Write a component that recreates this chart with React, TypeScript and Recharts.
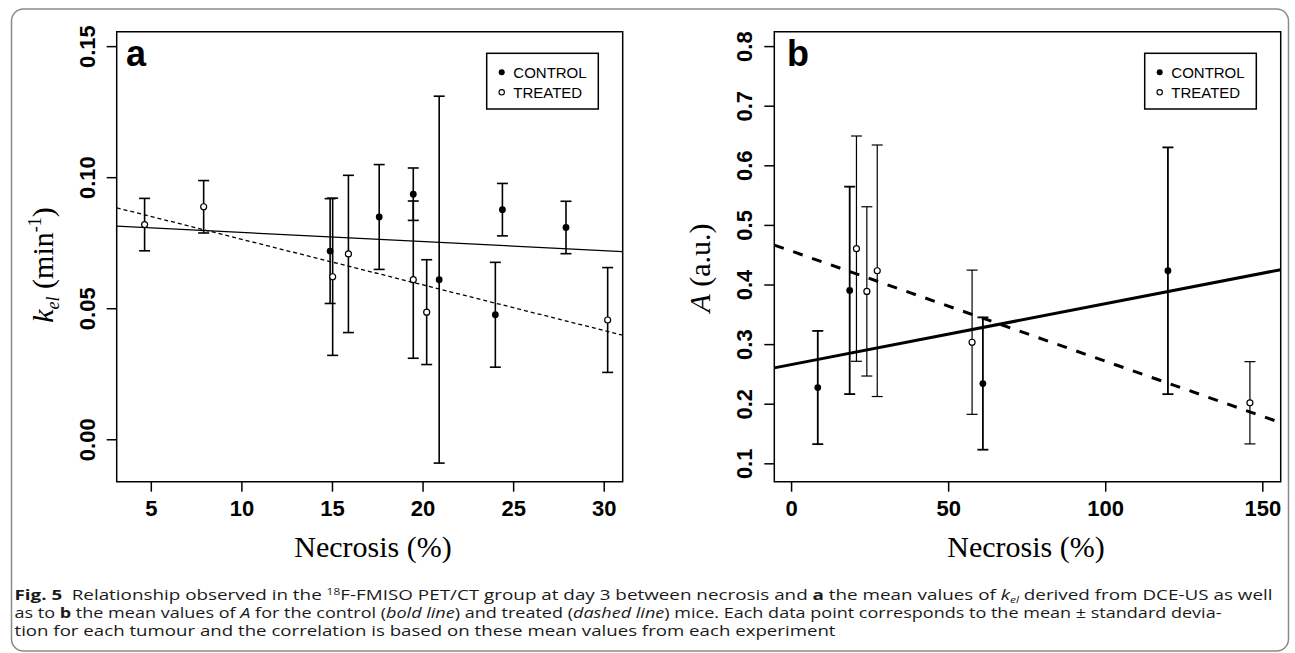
import React from 'react';
import { ScatterChart, Scatter, XAxis, YAxis, ErrorBar, ReferenceLine, ReferenceArea } from 'recharts';

// panel a: k_el against necrosis
const necrosisCtrlA = [14.87, 17.58, 19.46, 20.89, 23.99, 24.38, 27.89];
const kelCtrl = [0.072, 0.085, 0.0937, 0.0611, 0.0477, 0.0878, 0.081];
const kelCtrlSd = [0.02, 0.02, 0.01, 0.07, 0.02, 0.01, 0.01];
const necrosisTrtA = [4.63, 7.89, 15.01, 15.88, 19.46, 20.2, 30.19];
const kelTrt = [0.0821, 0.0889, 0.0622, 0.0709, 0.0611, 0.0487, 0.0457];
const kelTrtSd = [0.01, 0.01, 0.03, 0.03, 0.03, 0.02, 0.02];
const fitCtrlA = [{ x: 3.09, y: 0.0815 }, { x: 31.02, y: 0.0718 }];
const fitTrtA = [{ x: 3.09, y: 0.0885 }, { x: 31.02, y: 0.0399 }];
const domainXA = [3.09, 31.02];
const domainYA = [-0.016, 0.1557];
const ticksXA = [5, 10, 15, 20, 25, 30];
const ticksYA = [0, 0.05, 0.1, 0.15];

// panel b: A against necrosis
const necrosisCtrlB = [8.34, 18.5, 60.9, 119.8];
const ampCtrl = [0.228, 0.391, 0.2347, 0.4239];
const ampCtrlSd = [0.095, 0.174, 0.111, 0.207];
const necrosisTrtB = [20.65, 23.96, 27.27, 57.46, 145.9];
const ampTrt = [0.461, 0.3893, 0.4239, 0.304, 0.2024];
const ampTrtSd = [0.189, 0.142, 0.211, 0.121, 0.069];
const fitCtrlB = [{ x: -5.5, y: 0.261 }, { x: 155.7, y: 0.4257 }];
const fitTrtB = [{ x: -5.5, y: 0.467 }, { x: 155.7, y: 0.169 }];
const domainXB = [-5.5, 155.7];
const domainYB = [0.07, 0.825];
const ticksXB = [0, 50, 100, 150];
const ticksYB = [0.1, 0.2, 0.3, 0.4, 0.5, 0.6, 0.7, 0.8];

const legendLabels = ['CONTROL', 'TREATED'];

const toPoints = (xs: number[], ys: number[], sds: number[]) =>
  xs.map((x, i) => ({ x, y: ys[i], sd: sds[i] }));

const SANS = '"Liberation Sans", Arial, sans-serif';
const SERIF = '"Liberation Serif", "Times New Roman", serif';

const Dot = (p: any) => <circle cx={p.cx} cy={p.cy} r={3.4} fill="#000" />;
const Ring = (p: any) => <circle cx={p.cx} cy={p.cy} r={3} fill="#fff" stroke="#000" strokeWidth={1.2} />;

const XTick = (p: any) => (
  <text x={p.x} y={p.y + 24.5} textAnchor="middle" fontFamily={SANS} fontWeight="bold" fontSize={22} fill="#000">
    {p.payload.value}
  </text>
);

const makeYTick = (digits: number) => (p: any) => {
  const cx = p.x - 12;
  return (
    <text x={cx} y={p.y} transform={`rotate(-90 ${cx} ${p.y})`} textAnchor="middle" fontFamily={SANS} fontWeight="bold" fontSize={22} fill="#000">
      {p.payload.value.toFixed(digits)}
    </text>
  );
};

type PanelProps = {
  left: number;
  width: number;
  marginLeft: number;
  marginRight: number;
  domainX: number[];
  domainY: number[];
  ticksX: number[];
  ticksY: number[];
  digits: number;
  control: { x: number; y: number; sd: number }[];
  treated: { x: number; y: number; sd: number }[];
  fitCtrl: { x: number; y: number }[];
  fitTrt: { x: number; y: number }[];
  ctrlLine: any;
  trtLine: any;
  ctrlBar: number;
  trtBar: number;
};

const Panel = (p: PanelProps) => (
  <div style={{ position: 'absolute', left: p.left, top: 0 }}>
    <ScatterChart
      width={p.width}
      height={560}
      margin={{ top: 31.7, right: p.marginRight, bottom: 38.3, left: p.marginLeft }}
    >
      <XAxis
        type="number"
        dataKey="x"
        domain={p.domainX}
        ticks={p.ticksX}
        interval={0}
        allowDataOverflow
        axisLine={false}
        tickLine={{ stroke: '#000', strokeWidth: 1.5 }}
        tickSize={10}
        tickMargin={0}
        height={40}
        tick={XTick}
      />
      <YAxis
        type="number"
        dataKey="y"
        domain={p.domainY}
        ticks={p.ticksY}
        interval={0}
        allowDataOverflow
        axisLine={false}
        tickLine={{ stroke: '#000', strokeWidth: 1.5 }}
        tickSize={10}
        tickMargin={0}
        width={60}
        tick={makeYTick(p.digits)}
      />
      <ReferenceArea
        x1={p.domainX[0]}
        x2={p.domainX[1]}
        y1={p.domainY[0]}
        y2={p.domainY[1]}
        fill="none"
        fillOpacity={0}
        stroke="#000"
        strokeWidth={1.5}
        ifOverflow="visible"
      />
      <ReferenceLine segment={p.fitCtrl} ifOverflow="visible" {...p.ctrlLine} />
      <ReferenceLine segment={p.fitTrt} ifOverflow="visible" {...p.trtLine} />
      <Scatter data={p.control} shape={Dot} isAnimationActive={false}>
        <ErrorBar dataKey="sd" direction="y" width={5.5} stroke="#000" strokeWidth={p.ctrlBar} />
      </Scatter>
      <Scatter data={p.treated} shape={Ring} isAnimationActive={false}>
        <ErrorBar dataKey="sd" direction="y" width={5.5} stroke="#000" strokeWidth={p.trtBar} />
      </Scatter>
    </ScatterChart>
  </div>
);

const LegendBox = ({ x, y }: { x: number; y: number }) => (
  <g>
    <rect x={x} y={y} width={111.6} height={55.7} fill="#fff" stroke="#000" strokeWidth={1.5} />
    <circle cx={x + 15} cy={y + 19} r={3} fill="#000" />
    <circle cx={x + 15} cy={y + 39} r={2.7} fill="#fff" stroke="#000" strokeWidth={1.1} />
    {legendLabels.map((t, i) => (
      <text key={t} x={x + 26.6} y={y + 24.4 + i * 20} fontFamily={SANS} fontSize={15} fill="#000">
        {t}
      </text>
    ))}
  </g>
);

const CAP = '"Open Sans", "Noto Sans", sans-serif';

export default function App() {
  return (
    <div style={{ position: 'absolute', left: 0, top: 0, width: 1295, height: 653, background: '#fff' }}>
      <Panel
        left={0}
        width={640}
        marginLeft={56.7}
        marginRight={17.3}
        domainX={domainXA}
        domainY={domainYA}
        ticksX={ticksXA}
        ticksY={ticksYA}
        digits={2}
        control={toPoints(necrosisCtrlA, kelCtrl, kelCtrlSd)}
        treated={toPoints(necrosisTrtA, kelTrt, kelTrtSd)}
        fitCtrl={fitCtrlA}
        fitTrt={fitTrtA}
        ctrlLine={{ stroke: '#000', strokeWidth: 1.3 }}
        trtLine={{ stroke: '#000', strokeWidth: 1.3, strokeDasharray: '4 3' }}
        ctrlBar={1.6}
        trtBar={1.6}
      />
      <Panel
        left={645}
        width={645}
        marginLeft={69.3}
        marginRight={9.3}
        domainX={domainXB}
        domainY={domainYB}
        ticksX={ticksXB}
        ticksY={ticksYB}
        digits={1}
        control={toPoints(necrosisCtrlB, ampCtrl, ampCtrlSd)}
        treated={toPoints(necrosisTrtB, ampTrt, ampTrtSd)}
        fitCtrl={fitCtrlB}
        fitTrt={fitTrtB}
        ctrlLine={{ stroke: '#000', strokeWidth: 3 }}
        trtLine={{ stroke: '#000', strokeWidth: 3, strokeDasharray: '10 10' }}
        ctrlBar={1.8}
        trtBar={1.2}
      />
      <svg width={1295} height={653} style={{ position: 'absolute', left: 0, top: 0, pointerEvents: 'none' }}>
        <rect x={11.5} y={9} width={1277} height={642} rx={12} fill="none" stroke="#8a8a8a" strokeWidth={1.5} />
        <text x={126} y={66} fontFamily={SANS} fontWeight="bold" fontSize={36} fill="#000">a</text>
        <text x={787} y={66} fontFamily={SANS} fontWeight="bold" fontSize={36} fill="#000">b</text>
        <LegendBox x={486.7} y={53.3} />
        <LegendBox x={1144.7} y={53.3} />
        <text transform="translate(53 265) rotate(-90)" textAnchor="middle" fontFamily={SERIF} fontSize={30} fill="#000">
          <tspan fontStyle="italic">k</tspan>
          <tspan fontStyle="italic" fontSize={18} dy={6}>el</tspan>
          <tspan dy={-6}>{' (min'}</tspan>
          <tspan fontSize={18} dy={-12}>-1</tspan>
          <tspan dy={12}>)</tspan>
        </text>
        <text transform="translate(710 268) rotate(-90)" textAnchor="middle" fontFamily={SERIF} fontSize={30} fill="#000">
          <tspan fontStyle="italic">A</tspan>
          <tspan>{' (a.u.)'}</tspan>
        </text>
        <text x={373} y={557} textAnchor="middle" fontFamily={SERIF} fontSize={30} fill="#000">Necrosis (%)</text>
        <text x={1026} y={557} textAnchor="middle" fontFamily={SERIF} fontSize={30} fill="#000">Necrosis (%)</text>
        <text x={14.5} y={600} fontFamily={CAP} fontSize={15} fill="#1a1a1a" textLength={1258} lengthAdjust="spacingAndGlyphs">
          <tspan fontWeight="bold">Fig. 5</tspan>
          <tspan>{'\u2002Relationship observed in the '}</tspan>
          <tspan fontSize={9.5} dy={-5.5}>18</tspan>
          <tspan dy={5.5}>{'F-FMISO PET/CT group at day 3 between necrosis and '}</tspan>
          <tspan fontWeight="bold">a</tspan>
          <tspan>{' the mean values of '}</tspan>
          <tspan fontStyle="italic">k</tspan>
          <tspan fontStyle="italic" fontSize={9.5} dy={3}>el</tspan>
          <tspan dy={-3}>{' derived from DCE-US as well'}</tspan>
        </text>
        <text x={14.5} y={618.3} fontFamily={CAP} fontSize={15} fill="#1a1a1a" textLength={1207} lengthAdjust="spacingAndGlyphs">
          <tspan>{'as to '}</tspan>
          <tspan fontWeight="bold">b</tspan>
          <tspan>{' the mean values of '}</tspan>
          <tspan fontStyle="italic">A</tspan>
          <tspan>{' for the control ('}</tspan>
          <tspan fontStyle="italic">bold line</tspan>
          <tspan>{') and treated ('}</tspan>
          <tspan fontStyle="italic">dashed line</tspan>
          <tspan>{') mice. Each data point corresponds to the mean \u00b1 standard devia-'}</tspan>
        </text>
        <text x={14.5} y={635.5} fontFamily={CAP} fontSize={15} fill="#1a1a1a" textLength={821} lengthAdjust="spacingAndGlyphs">
          tion for each tumour and the correlation is based on these mean values from each experiment
        </text>
      </svg>
    </div>
  );
}
